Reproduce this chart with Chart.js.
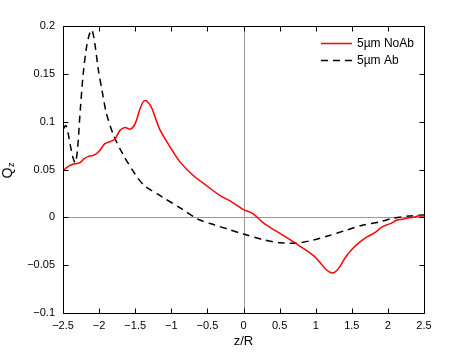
<!DOCTYPE html>
<html>
<head>
<meta charset="utf-8">
<script src="https://cdn.jsdelivr.net/npm/chart.js@4"></script>
<style>
  body { margin: 0; background: #fff; }
  canvas { display: block; }
</style>
</head>
<body>
<canvas id="chart" width="469" height="353"></canvas>
<script>
// values
const noAbX = [-2.50, -2.41, -2.34, -2.27, -2.21, -2.14, -2.07, -2.00, -1.92, -1.85, -1.78, -1.71, -1.64, -1.57,
  -1.50, -1.43, -1.37, -1.29, -1.23, -1.16, -1.02, -0.88, -0.70, -0.51, -0.33, -0.16, -0.08, 0.00, 0.13, 0.28,
  0.51, 0.74, 0.97, 1.08, 1.15, 1.22, 1.27, 1.33, 1.42, 1.52, 1.61, 1.70, 1.75, 1.84, 1.90, 1.98, 2.05, 2.12,
  2.20, 2.26, 2.35, 2.42, 2.50];
const noAbY = [0.049, 0.054, 0.056, 0.057, 0.061, 0.064, 0.065, 0.069, 0.077, 0.079, 0.082, 0.091, 0.094, 0.092,
  0.098, 0.114, 0.122, 0.117, 0.106, 0.092, 0.074, 0.058, 0.044, 0.033, 0.023, 0.016, 0.012, 0.008, 0.004, -0.006,
  -0.017, -0.028, -0.040, -0.049, -0.055, -0.058, -0.057, -0.052, -0.041, -0.032, -0.026, -0.021, -0.019, -0.015,
  -0.011, -0.008, -0.006, -0.003, -0.002, -0.001, 0.000, 0.0014, 0.0014];

const abX = [-2.50, -2.46, -2.43, -2.39, -2.36, -2.33, -2.30, -2.26, -2.22, -2.18, -2.14, -2.10, -2.06, -2.01,
  -1.96, -1.90, -1.80, -1.67, -1.50, -1.37, -1.13, -0.86, -0.63, -0.40, -0.19, 0.00, 0.28, 0.51, 0.74, 0.97,
  1.19, 1.43, 1.66, 1.89, 2.07, 2.30, 2.50];
const abY = [0.092, 0.096, 0.088, 0.072, 0.062, 0.057, 0.070, 0.113, 0.150, 0.175, 0.190, 0.196, 0.182, 0.154,
  0.133, 0.109, 0.086, 0.066, 0.045, 0.033, 0.0215, 0.009, -0.002, -0.008, -0.013, -0.0175, -0.0235, -0.0265,
  -0.027, -0.0237, -0.019, -0.0133, -0.008, -0.0046, -0.001, 0.0014, 0.0024];

const xTicks = [-2.5, -2, -1.5, -1, -0.5, 0, 0.5, 1, 1.5, 2, 2.5];
const xTickLabels = ['\u22122.5', '\u22122', '\u22121.5', '\u22121', '\u22120.5', '0', '0.5', '1', '1.5', '2', '2.5'];
const yTicks = [-0.1, -0.05, 0, 0.05, 0.1, 0.15, 0.2];
const yTickLabels = ['\u22120.1', '\u22120.05', '0', '0.05', '0.1', '0.15', '0.2'];

const seriesNames = ['5\u00b5m NoAb', '5\u00b5m Ab'];

const FONT = '"Liberation Sans", Arial, sans-serif';

const toPoints = (xs, ys) => xs.map((x, i) => ({ x: x, y: ys[i] }));

// zero lines, box, inward ticks, legend and axis titles (matlab look)
const matlabAxes = {
  id: 'matlabAxes',
  beforeDatasetsDraw(chart) {
    const { ctx, chartArea: a, scales } = chart;
    const x0 = Math.round(scales.x.getPixelForValue(0)) + 0.5;
    const y0 = Math.round(scales.y.getPixelForValue(0)) + 0.5;
    ctx.save();
    ctx.strokeStyle = '#9a9a9a';
    ctx.lineWidth = 1;
    ctx.beginPath();
    ctx.moveTo(x0, a.top); ctx.lineTo(x0, a.bottom);
    ctx.moveTo(a.left, y0); ctx.lineTo(a.right, y0);
    ctx.stroke();
    ctx.restore();
  },
  afterDatasetsDraw(chart) {
    const { ctx, chartArea: a, scales } = chart;
    const L = Math.round(a.left) + 0.5, R = Math.round(a.right) + 0.5;
    const T = Math.round(a.top) + 0.5, B = Math.round(a.bottom) + 0.5;
    const tl = 5;
    ctx.save();
    ctx.strokeStyle = '#000';
    ctx.lineWidth = 1;
    ctx.beginPath();
    ctx.rect(L, T, R - L, B - T);
    xTicks.forEach(v => {
      const p = Math.round(scales.x.getPixelForValue(v)) + 0.5;
      ctx.moveTo(p, B); ctx.lineTo(p, B - tl);
      ctx.moveTo(p, T); ctx.lineTo(p, T + tl);
    });
    yTicks.forEach(v => {
      const p = Math.round(scales.y.getPixelForValue(v)) + 0.5;
      ctx.moveTo(L, p); ctx.lineTo(L + tl, p);
      ctx.moveTo(R, p); ctx.lineTo(R - tl, p);
    });
    ctx.stroke();

    // legend
    const lx1 = 321, lx2 = 352, tx = 357;
    const rows = [43, 60];
    chart.data.datasets.forEach((ds, i) => {
      ctx.beginPath();
      ctx.strokeStyle = ds.borderColor;
      ctx.lineWidth = ds.borderWidth;
      ctx.setLineDash(ds.borderDash || []);
      ctx.moveTo(lx1, rows[i] + 0.5);
      ctx.lineTo(lx2, rows[i] + 0.5);
      ctx.stroke();
      ctx.setLineDash([]);
      ctx.fillStyle = '#000';
      ctx.font = '12px ' + FONT;
      ctx.textAlign = 'left';
      ctx.textBaseline = 'middle';
      ctx.fillText(ds.label, tx, rows[i] + 1);
    });

    // x title
    ctx.fillStyle = '#000';
    ctx.font = '13px ' + FONT;
    ctx.textAlign = 'center';
    ctx.textBaseline = 'alphabetic';
    ctx.fillText('z/R', (a.left + a.right) / 2, 345);

    // y title Q_z
    ctx.translate(0, 173);
    ctx.rotate(-Math.PI / 2);
    ctx.font = '14px ' + FONT;
    ctx.textAlign = 'center';
    ctx.fillText('Q', 0, 12);
    ctx.font = '9px ' + FONT;
    ctx.textAlign = 'left';
    ctx.fillText('z', 6, 14);
    ctx.restore();
  }
};

new Chart(document.getElementById('chart'), {
  type: 'line',
  data: {
    datasets: [
      {
        label: seriesNames[0],
        data: toPoints(noAbX, noAbY),
        borderColor: '#ff0000',
        borderWidth: 1.5,
        pointRadius: 0,
        tension: 0.35,
        fill: false
      },
      {
        label: seriesNames[1],
        data: toPoints(abX, abY),
        borderColor: '#000000',
        borderWidth: 1.5,
        borderDash: [7, 5],
        pointRadius: 0,
        tension: 0.3,
        fill: false
      }
    ]
  },
  options: {
    responsive: false,
    animation: false,
    devicePixelRatio: 1,
    layout: { padding: { left: 0, right: 45, top: 26, bottom: 0 } },
    plugins: {
      legend: { display: false },
      tooltip: { enabled: false }
    },
    scales: {
      x: {
        type: 'linear',
        min: -2.5,
        max: 2.5,
        grid: { display: false, drawTicks: false },
        border: { display: false },
        afterBuildTicks: s => { s.ticks = xTicks.map(v => ({ value: v })); },
        afterFit: s => { s.height = 40; },
        ticks: {
          autoSkip: false,
          maxRotation: 0,
          padding: 6,
          color: '#000',
          font: { family: FONT, size: 11 },
          callback: (v, i) => xTickLabels[i]
        }
      },
      y: {
        type: 'linear',
        min: -0.1,
        max: 0.2,
        grid: { display: false, drawTicks: false },
        border: { display: false },
        afterBuildTicks: s => { s.ticks = yTicks.map(v => ({ value: v })); },
        afterFit: s => { s.width = 63; },
        ticks: {
          autoSkip: false,
          padding: 8,
          color: '#000',
          font: { family: FONT, size: 11 },
          callback: (v, i) => yTickLabels[i]
        }
      }
    }
  },
  plugins: [matlabAxes]
});
</script>
</body>
</html>
